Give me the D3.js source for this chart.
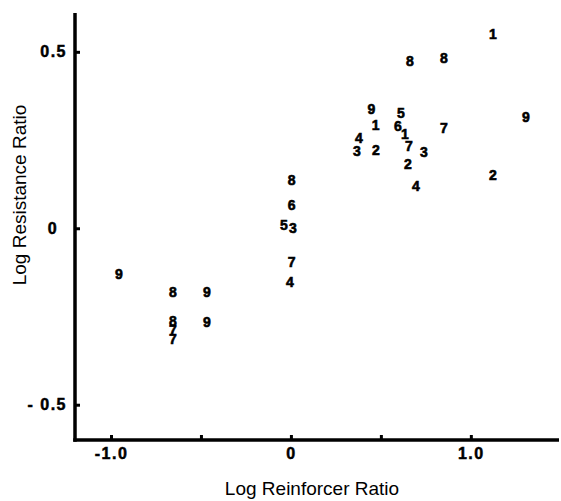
<!DOCTYPE html>
<html>
<head>
<meta charset="utf-8">
<script src="https://cdn.jsdelivr.net/npm/d3@7/dist/d3.min.js"></script>
<style>
  html, body { margin: 0; padding: 0; background: #fff; }
  svg { display: block; }
</style>
</head>
<body>
<svg id="chart" width="561" height="501"></svg>
<script>
// Data: subject number label, log reinforcer ratio (x), log resistance ratio (y)
const labels = ["9","8","9","8","7","7","9",
                "8","6","5","3","7","4",
                "8","8","9","5","1","6","1","7","4","3","2","7","3","2","4",
                "1","9","2"];
const xValues = [-0.956,-0.656,-0.467,-0.656,-0.656,-0.656,-0.467,
                 0.004,0.004,-0.039,0.011,0.004,-0.006,
                 0.661,0.850,0.448,0.611,0.471,0.594,0.633,0.850,0.378,0.367,0.472,0.656,0.739,0.650,0.694,
                 1.122,1.306,1.122];
const yValues = [-0.129,-0.180,-0.180,-0.263,-0.287,-0.315,-0.267,
                 0.138,0.067,0.008,0.000,-0.096,-0.152,
                 0.475,0.483,0.337,0.326,0.292,0.289,0.267,0.284,0.256,0.219,0.222,0.233,0.216,0.183,0.121,
                 0.551,0.315,0.152];
const xTicks = [-1.0,-0.5,0,0.5,1.0];
const xTickLabels = {"-1": "-1.0", "0": "0", "1": "1.0"};
const yTicks = [-0.5,0,0.5];
const yTickLabels = {"-0.5": "- 0.5", "0": "0", "0.5": "0.5"};
const xTitle = "Log Reinforcer Ratio";
const yTitle = "Log Resistance Ratio";

const svg = d3.select("#chart");
const x = d3.scaleLinear().domain([-1.2, 1.49]).range([75, 559]);
const y = d3.scaleLinear().domain([-0.6, 0.61]).range([440, 13]);

const font = "'Liberation Sans', Arial, Helvetica, sans-serif";

// X axis
const xAxis = d3.axisBottom(x)
  .tickValues(xTicks)
  .tickSize(-5)
  .tickSizeOuter(0)
  .tickPadding(8)
  .tickFormat(d => xTickLabels[String(d)] || "");
const gx = svg.append("g").attr("transform", `translate(0,${y.range()[0]})`).call(xAxis);
gx.select(".domain").attr("stroke", "#000").attr("stroke-width", 3.5).attr("d", `M${x.range()[0]-1.75},0H${x.range()[1]}`);
gx.selectAll(".tick line").attr("stroke", "#000").attr("stroke-width", 3);
gx.selectAll(".tick text")
  .attr("fill", "#000")
  .attr("stroke", "#000").attr("stroke-width", 0.5)
  .style("font-family", font)
  .style("font-size", "16px")
  .style("font-weight", "bold")
  .style("letter-spacing", "1.5px");

// Y axis
const yAxis = d3.axisLeft(y)
  .tickValues(yTicks)
  .tickSize(-5)
  .tickSizeOuter(0)
  .tickPadding(8)
  .tickFormat(d => yTickLabels[String(d)] || "");
const gy = svg.append("g").attr("transform", `translate(${x.range()[0]},0)`).call(yAxis);
gy.select(".domain").attr("stroke", "#000").attr("stroke-width", 3.5).attr("d", `M0,${y.range()[1]}V${y.range()[0]+1.75}`);
gy.selectAll(".tick line").attr("stroke", "#000").attr("stroke-width", 3);
gy.selectAll(".tick text")
  .attr("fill", "#000")
  .attr("stroke", "#000").attr("stroke-width", 0.5)
  .style("font-family", font)
  .style("font-size", "16px")
  .style("font-weight", "bold")
  .style("letter-spacing", "1.5px")
  .each(function(d) {
    if (d === 0) d3.select(this).attr("text-anchor", "middle").attr("x", -22);
  });

// Points as digit labels
svg.append("g").selectAll("text")
  .data(labels.map((l, i) => ({l, xv: xValues[i], yv: yValues[i]})))
  .join("text")
  .attr("x", d => x(d.xv))
  .attr("y", d => y(d.yv))
  .attr("text-anchor", "middle")
  .attr("dominant-baseline", "central")
  .style("font-family", font)
  .style("font-size", "14px")
  .style("font-weight", "bold")
  .attr("fill", "#000")
  .attr("stroke", "#000").attr("stroke-width", 0.6)
  .text(d => d.l);

// Axis titles
svg.append("text")
  .attr("x", 312).attr("y", 495)
  .attr("text-anchor", "middle")
  .style("font-family", font)
  .style("font-size", "19px")
  .attr("fill", "#000")
  .text(xTitle);

svg.append("text")
  .attr("transform", "translate(26,195) rotate(-90)")
  .attr("text-anchor", "middle")
  .style("font-family", font)
  .style("font-size", "19px")
  .attr("fill", "#000")
  .text(yTitle);
</script>
</body>
</html>
